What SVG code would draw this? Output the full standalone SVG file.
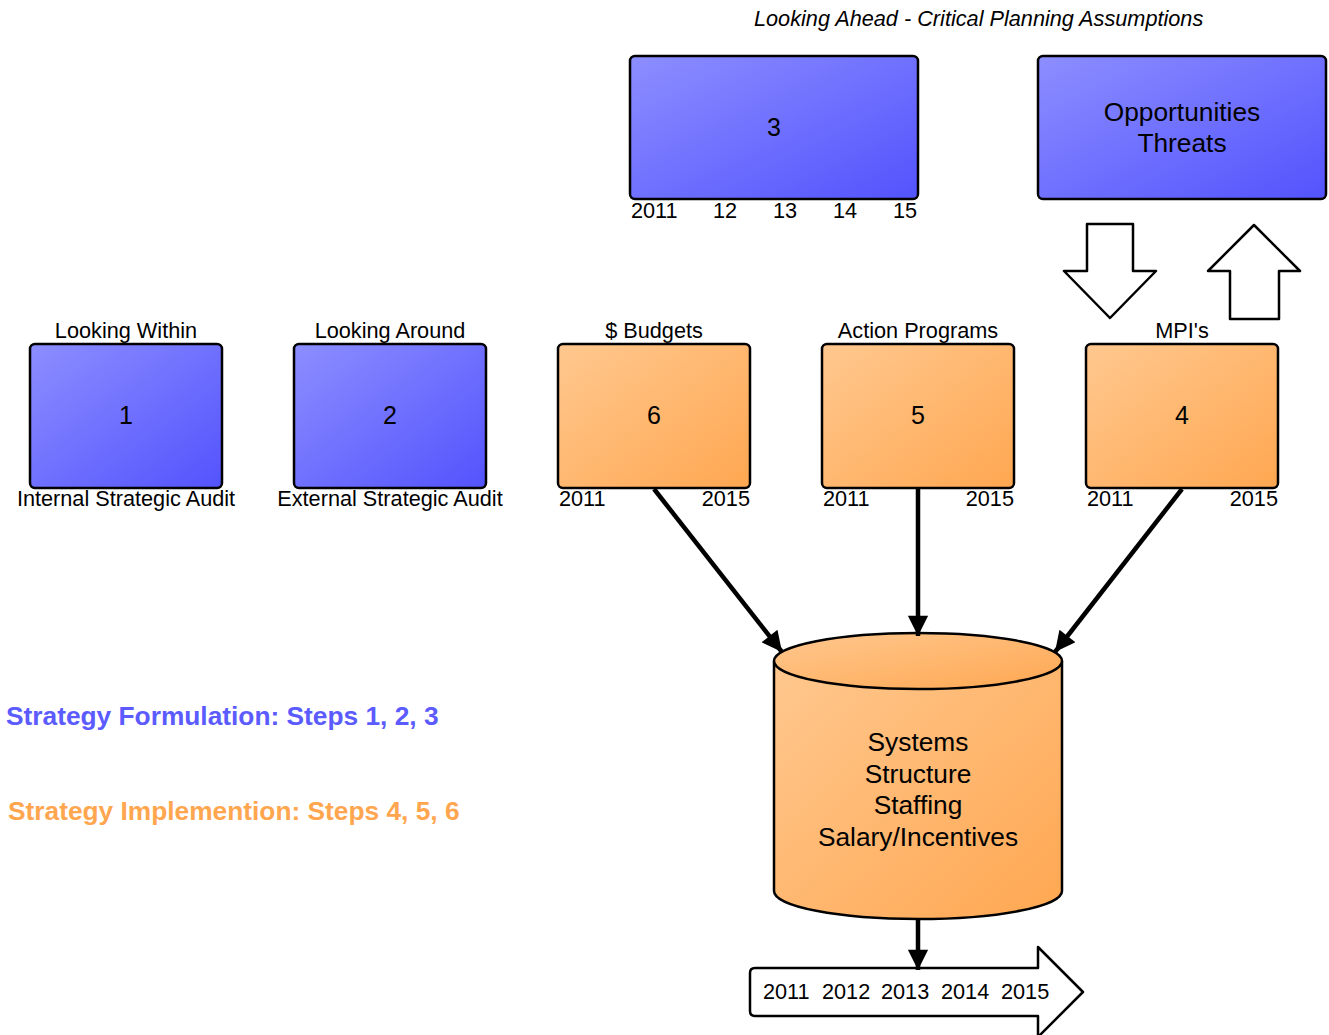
<svg xmlns="http://www.w3.org/2000/svg" width="1329" height="1035" viewBox="0 0 1329 1035">
  <defs>
    <linearGradient id="blueFill" x1="0" y1="0" x2="1" y2="1">
      <stop offset="0" stop-color="#8c8eff"/>
      <stop offset="1" stop-color="#5353fd"/>
    </linearGradient>
    <linearGradient id="orangeFill" x1="0" y1="0" x2="1" y2="1">
      <stop offset="0" stop-color="#ffc88f"/>
      <stop offset="1" stop-color="#ffa751"/>
    </linearGradient>
    <marker id="head" viewBox="0 0 10 10" refX="10" refY="5" markerWidth="5" markerHeight="4.5" orient="auto" markerUnits="strokeWidth">
      <path d="M0,0 L10,5 L0,10 Z" fill="#000"/>
    </marker>
    <style>
      .box { stroke: #000; stroke-width: 2.5; }
      .blue { fill: url(#blueFill); }
      .orange { fill: url(#orangeFill); }
      .t { font-family: "Liberation Sans", Arial, sans-serif; fill: #000; }
      .lbl { font-size: 21.7px; }
      .num { font-size: 25px; text-anchor: middle; }
      .big { font-size: 26.3px; text-anchor: middle; }
      .mid { text-anchor: middle; }
      .end { text-anchor: end; }
      .conn { stroke: #000; stroke-width: 4.5; fill: none; marker-end: url(#head); }
      .outline { fill: #fff; stroke: #000; stroke-width: 2.5; stroke-linejoin: round; }
      .legend { font-size: 26.3px; font-weight: bold; }
    </style>
  </defs>

  <rect width="1329" height="1035" fill="#fff"/>

  <text class="t lbl" x="754" y="26" font-style="italic">Looking Ahead - Critical Planning Assumptions</text>

  <!-- Step 3: planning horizon -->
  <g id="step3">
    <rect class="box blue" x="630" y="56" width="288" height="143" rx="5"/>
    <text class="t num" x="774" y="136">3</text>
    <text class="t lbl" x="631" y="218">2011</text>
    <text class="t lbl" x="713" y="218">12</text>
    <text class="t lbl" x="773" y="218">13</text>
    <text class="t lbl" x="833" y="218">14</text>
    <text class="t lbl" x="893" y="218">15</text>
  </g>

  <!-- Opportunities / Threats -->
  <g id="opportunities">
    <rect class="box blue" x="1038" y="56" width="288" height="143" rx="5"/>
    <text class="t big" x="1182" y="121" font-size="27.3">Opportunities</text>
    <text class="t big" x="1182" y="152" font-size="27.3">Threats</text>
  </g>

  <!-- Block arrows between Opportunities and MPI's -->
  <g id="arrowDown">
    <path class="outline" d="M1087,224 L1133,224 L1133,271 L1156,271 L1110,318 L1064,271 L1087,271 Z"/>
  </g>
  <g id="arrowUp">
    <path class="outline" d="M1254,225 L1300,271 L1279,271 L1279,319 L1230,319 L1230,271 L1208,271 Z"/>
  </g>

  <!-- Step 1 -->
  <g id="step1">
    <text class="t lbl mid" x="126" y="338">Looking Within</text>
    <rect class="box blue" x="30" y="344" width="192" height="144" rx="5"/>
    <text class="t num" x="126" y="424">1</text>
    <text class="t lbl mid" x="126" y="506">Internal Strategic Audit</text>
  </g>

  <!-- Step 2 -->
  <g id="step2">
    <text class="t lbl mid" x="390" y="338">Looking Around</text>
    <rect class="box blue" x="294" y="344" width="192" height="144" rx="5"/>
    <text class="t num" x="390" y="424">2</text>
    <text class="t lbl mid" x="390" y="506">External Strategic Audit</text>
  </g>

  <!-- Step 6 -->
  <g id="step6">
    <text class="t lbl mid" x="654" y="338">$ Budgets</text>
    <rect class="box orange" x="558" y="344" width="192" height="144" rx="5"/>
    <text class="t num" x="654" y="424">6</text>
    <text class="t lbl" x="559" y="506">2011</text>
    <text class="t lbl end" x="750" y="506">2015</text>
  </g>

  <!-- Step 5 -->
  <g id="step5">
    <text class="t lbl mid" x="918" y="338">Action Programs</text>
    <rect class="box orange" x="822" y="344" width="192" height="144" rx="5"/>
    <text class="t num" x="918" y="424">5</text>
    <text class="t lbl" x="823" y="506">2011</text>
    <text class="t lbl end" x="1014" y="506">2015</text>
  </g>

  <!-- Step 4 -->
  <g id="step4">
    <text class="t lbl mid" x="1182" y="338">MPI's</text>
    <rect class="box orange" x="1086" y="344" width="192" height="144" rx="5"/>
    <text class="t num" x="1182" y="424">4</text>
    <text class="t lbl" x="1087" y="506">2011</text>
    <text class="t lbl end" x="1278" y="506">2015</text>
  </g>

  <!-- Implementation cylinder -->
  <g id="systems">
    <path class="box orange" d="M774,661 L774,891 A144,28 0 0 0 1062,891 L1062,661"/>
    <ellipse class="box orange" cx="918" cy="661" rx="144" ry="28"/>
    <text class="t big" x="918" y="751">Systems</text>
    <text class="t big" x="918" y="783">Structure</text>
    <text class="t big" x="918" y="814">Staffing</text>
    <text class="t big" x="918" y="846">Salary/Incentives</text>
  </g>

  <!-- Timeline arrow -->
  <g id="timeline">
    <path class="outline" d="M755,968 L1038,968 L1038,947 L1083,992 L1038,1037 L1038,1016 L755,1016 Q750,1016 750,1011 L750,973 Q750,968 755,968 Z"/>
    <text class="t lbl" x="763" y="999">2011</text>
    <text class="t lbl" x="822" y="999">2012</text>
    <text class="t lbl" x="881" y="999">2013</text>
    <text class="t lbl" x="941" y="999">2014</text>
    <text class="t lbl" x="1001" y="999">2015</text>
  </g>

  <!-- Connectors -->
  <g id="connectors">
    <line class="conn" x1="654" y1="489" x2="782" y2="652"/>
    <line class="conn" x1="918" y1="489" x2="918" y2="636"/>
    <line class="conn" x1="1182" y1="489" x2="1055" y2="652"/>
    <line class="conn" x1="918" y1="919" x2="918" y2="970"/>
  </g>

  <!-- Legend -->
  <text class="t legend" x="6" y="725" style="fill:#5b5bff">Strategy Formulation: Steps 1, 2, 3</text>
  <text class="t legend" x="8" y="820" style="fill:#ffa64f">Strategy Implemention: Steps 4, 5, 6</text>
</svg>
